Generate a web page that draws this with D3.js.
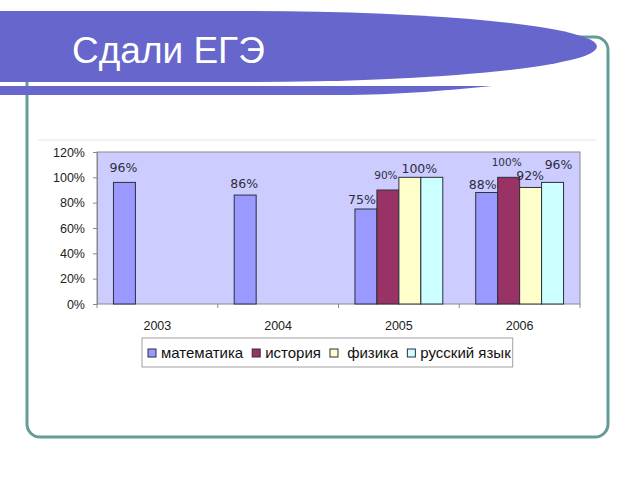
<!DOCTYPE html>
<html>
<head>
<meta charset="utf-8">
<script src="https://cdn.jsdelivr.net/npm/d3@7/dist/d3.min.js"></script>
<style>
  body { margin: 0; background: #fff; }
  svg { display: block; }
</style>
</head>
<body>
<svg id="slide" width="640" height="480"></svg>
<script>
// chart data
var years = ["2003", "2004", "2005", "2006"];
var subjects = ["математика", "история", " физика", "русский язык"];
var mathVals = [96, 86, 75, 88];
var historyVals = [null, null, 90, 100];
var physicsVals = [null, null, 100, 92];
var russianVals = [null, null, 100, 96];
var yTicks = [0, 20, 40, 60, 80, 100, 120];
var barColors = ["#9999ff", "#993366", "#ffffcc", "#ccffff"];

// label nudges (dx, dy from bar top centre, font size), excel moved some around
var labelNudge = [
    [[-1, -10.5, 12.5], [-1, -7.5, 12.5], [-4, -5, 12.5], [-4, -4, 12.5]],
    [null, null, [-2, -11, 10.5], [-2, -11, 10.5]],
    [null, null, [9.5, -4.5, 12.5], [-0.5, -7, 12.5]],
    [null, null, null, [6, -13, 12.5]]
];

var series = [mathVals, historyVals, physicsVals, russianVals];

var svg = d3.select("#slide");

// slide frame
svg.append("rect")
    .attr("x", 27).attr("y", 37)
    .attr("width", 581).attr("height", 400)
    .attr("rx", 13).attr("ry", 13)
    .attr("fill", "none")
    .attr("stroke", "#669c97")
    .attr("stroke-width", 3);

// title banner
svg.append("path")
    .attr("d", "M0,11 H250 A347,35.5 0 0 1 250,82 H0 Z")
    .attr("fill", "#6666cc");
svg.append("path")
    .attr("d", "M0,86 H492 C450,90 410,94 350,95 H0 Z")
    .attr("fill", "#6666cc");
svg.append("text")
    .attr("x", 72).attr("y", 63)
    .attr("font-family", "Liberation Sans, Arial, sans-serif")
    .attr("font-size", 37)
    .attr("fill", "#ffffff")
    .text("Сдали ЕГЭ");

// faint chart area edge
svg.append("line")
    .attr("x1", 38).attr("x2", 596)
    .attr("y1", 140).attr("y2", 140)
    .attr("stroke", "#e6e6e6");

var plot = {left: 97, top: 152, right: 580, bottom: 304};

var x0 = d3.scaleBand()
    .domain(years)
    .range([plot.left, plot.right])
    .paddingInner(0).paddingOuter(0);

var gap = x0.bandwidth() * 0.6 / 2.2; // excel gap width 150%
var x1 = d3.scaleBand()
    .domain(d3.range(subjects.length))
    .range([gap / 2, x0.bandwidth() - gap / 2]);

var y = d3.scaleLinear().domain([0, 120]).range([plot.bottom, plot.top]);

svg.append("rect")
    .attr("x", plot.left).attr("y", plot.top)
    .attr("width", plot.right - plot.left)
    .attr("height", plot.bottom - plot.top)
    .attr("fill", "#ccccff")
    .attr("stroke", "#8a8a8a")
    .attr("stroke-width", 1);

// bars
for (var s = 0; s < series.length; s++) {
    var g = svg.append("g").attr("class", "series" + s);
    var rows = [];
    for (var i = 0; i < years.length; i++) {
        if (series[s][i] != null) rows.push({year: years[i], v: series[s][i], i: i});
    }
    g.selectAll("rect").data(rows).enter().append("rect")
        .attr("x", function(d) { return x0(d.year) + x1(s); })
        .attr("y", function(d) { return y(d.v); })
        .attr("width", x1.bandwidth())
        .attr("height", function(d) { return y(0) - y(d.v); })
        .attr("fill", barColors[s])
        .attr("stroke", "#2e2e3a")
        .attr("stroke-width", 1);

    g.selectAll("text").data(rows.filter(function(d) { return labelNudge[s][d.i]; }))
        .enter().append("text")
        .attr("x", function(d) { return x0(d.year) + x1(s) + x1.bandwidth() / 2 + labelNudge[s][d.i][0]; })
        .attr("y", function(d) { return y(d.v) + labelNudge[s][d.i][1]; })
        .attr("text-anchor", "middle")
        .attr("font-family", "DejaVu Sans, Verdana, sans-serif")
        .attr("font-size", function(d) { return labelNudge[s][d.i][2]; })
        .attr("fill", "#2e2e3e")
        .text(function(d) { return d.v + "%"; });
}

// y axis
var yAxis = d3.axisLeft(y).tickValues(yTicks).tickSize(4).tickPadding(8)
    .tickFormat(function(d) { return d + "%"; });
var ya = svg.append("g").attr("transform", "translate(" + plot.left + ",0)").call(yAxis);
ya.select(".domain").attr("stroke", "#8a8a8a");
ya.selectAll(".tick line").attr("stroke", "#8a8a8a");
ya.selectAll("text")
    .attr("font-family", "Liberation Sans, Arial, sans-serif")
    .attr("font-size", 12.5)
    .attr("fill", "#222");

// x axis, ticks on band edges
var edges = years.map(function(d) { return x0(d); }).concat([plot.right]);
svg.append("g").selectAll("line").data(edges).enter().append("line")
    .attr("x1", function(d) { return d; }).attr("x2", function(d) { return d; })
    .attr("y1", plot.bottom).attr("y2", plot.bottom + 4)
    .attr("stroke", "#8a8a8a");
svg.append("g").selectAll("text").data(years).enter().append("text")
    .attr("x", function(d) { return x0(d) + x0.bandwidth() / 2; })
    .attr("y", 330)
    .attr("text-anchor", "middle")
    .attr("font-family", "Liberation Sans, Arial, sans-serif")
    .attr("font-size", 12.5)
    .attr("fill", "#222")
    .text(function(d) { return d; });

// legend
var legend = svg.append("g");
var legBox = legend.append("rect")
    .attr("y", 338).attr("height", 29)
    .attr("fill", "#fff")
    .attr("stroke", "#a0a0a0");
var lx = 148;
for (var k = 0; k < subjects.length; k++) {
    legend.append("rect")
        .attr("x", lx).attr("y", 349)
        .attr("width", 8).attr("height", 8)
        .attr("fill", barColors[k])
        .attr("stroke", "#2e2e3a");
    var t = legend.append("text")
        .attr("x", lx + 13).attr("y", 358)
        .attr("font-family", "Liberation Sans, Arial, sans-serif")
        .attr("font-size", 15)
        .attr("fill", "#111")
        .style("white-space", "pre")
        .text(subjects[k]);
    lx = lx + 13 + t.node().getComputedTextLength() + 9;
}
legBox.attr("x", 142).attr("width", lx - 9 + 2 - 142);
</script>
</body>
</html>
